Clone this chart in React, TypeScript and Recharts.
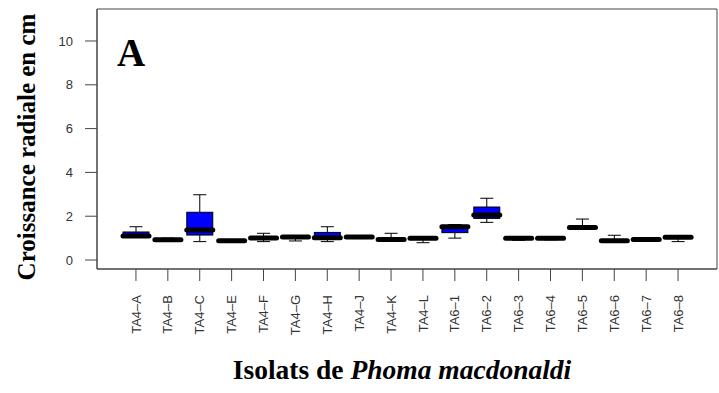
import React from "react";
import { Bar, CartesianGrid, ComposedChart, Label, XAxis, YAxis } from "recharts";

const isolates = [
  "TA4–A", "TA4–B", "TA4–C", "TA4–E", "TA4–F", "TA4–G", "TA4–H", "TA4–J", "TA4–K",
  "TA4–L", "TA6–1", "TA6–2", "TA6–3", "TA6–4", "TA6–5", "TA6–6", "TA6–7", "TA6–8",
];
const lowWhisker = [1.05, 0.88, 0.84, 0.82, 0.84, 0.87, 0.84, 0.98, 0.9, 0.79, 1.0, 1.72, 0.9, 0.92, 1.42, 0.83, 0.88, 0.84];
const lowerQuartile = [1.06, 0.9, 1.14, 0.85, 0.95, 1.0, 0.97, 1.0, 0.92, 0.95, 1.25, 1.9, 0.95, 0.95, 1.45, 0.85, 0.9, 0.98];
const medians = [1.1, 0.93, 1.37, 0.88, 1.0, 1.05, 1.02, 1.05, 0.94, 0.99, 1.52, 2.05, 0.99, 0.99, 1.49, 0.88, 0.94, 1.04];
const upperQuartile = [1.28, 0.97, 2.18, 0.9, 1.05, 1.08, 1.26, 1.08, 0.98, 1.02, 1.58, 2.42, 1.02, 1.02, 1.55, 0.92, 0.97, 1.06];
const highWhisker = [1.52, 1.0, 2.98, 0.93, 1.22, 1.12, 1.52, 1.1, 1.22, 1.04, 1.62, 2.82, 1.05, 1.04, 1.87, 1.13, 0.98, 1.08];
const yTicks = [0, 2, 4, 6, 8, 10];

const rows = isolates.map((name, i) => ({
  name,
  lo: lowWhisker[i],
  q1: lowerQuartile[i],
  med: medians[i],
  q3: upperQuartile[i],
  hi: highWhisker[i],
}));

const frame = "#444";
const serif = "'Liberation Serif', 'Times New Roman', serif";
const sans = "'Liberation Sans', Arial, sans-serif";

// the bar spans lo..hi, the rest of the box is placed relative to it
function BoxShape(props: any) {
  const { x, y, width, height, payload } = props;
  const top = Math.min(y, y + height);
  const bottom = Math.max(y, y + height);
  const k = (bottom - top) / (payload.hi - payload.lo || 1);
  const py = (v: number) => top + (payload.hi - v) * k;
  const cx = x + width / 2;
  const cap = width / 4;
  return (
    <g>
      <line x1={cx} x2={cx} y1={py(payload.hi)} y2={py(payload.q3)} stroke="#000" />
      <line x1={cx} x2={cx} y1={py(payload.q1)} y2={py(payload.lo)} stroke="#000" />
      <line x1={cx - cap} x2={cx + cap} y1={py(payload.hi)} y2={py(payload.hi)} stroke="#000" />
      <line x1={cx - cap} x2={cx + cap} y1={py(payload.lo)} y2={py(payload.lo)} stroke="#000" />
      <rect
        x={x}
        y={py(payload.q3)}
        width={width}
        height={Math.max(py(payload.q1) - py(payload.q3), 0.5)}
        fill="#0000ff"
        stroke="#000"
      />
      <line
        x1={x}
        x2={x + width}
        y1={py(payload.med)}
        y2={py(payload.med)}
        stroke="#000"
        strokeWidth={5}
        strokeLinecap="round"
      />
    </g>
  );
}

function RotatedTick({ x, y, payload }: any) {
  return (
    <g transform={`translate(${x},${y})`}>
      <text transform="rotate(-90)" textAnchor="end" dy="0.35em" fontSize={13} fontFamily={sans} fill="#333">
        {payload.value}
      </text>
    </g>
  );
}

export default function App() {
  return (
    <div style={{ position: "relative", width: 719, height: 393, background: "#fff" }}>
      <style>{`body{margin:0}`}</style>
      <ComposedChart width={719} height={393} data={rows} margin={{ top: 9, right: 2, left: 0, bottom: 0 }}>
        {/* box around the plot region */}
        <CartesianGrid
          stroke={frame}
          strokeDasharray=""
          horizontalCoordinatesGenerator={({ offset }: any) => [offset.top, offset.top + offset.height]}
          verticalCoordinatesGenerator={({ offset }: any) => [offset.left, offset.left + offset.width]}
        />
        <XAxis
          dataKey="name"
          interval={0}
          height={124}
          padding={{ left: 23, right: 23 }}
          tickSize={12}
          tickMargin={14}
          tick={<RotatedTick />}
          tickLine={{ stroke: frame }}
          axisLine={{ stroke: frame }}
        >
          <Label
            content={() => (
              <text x={402} y={379} textAnchor="middle" fontFamily={serif} fontWeight="bold" fontSize={27.5} fill="#000">
                Isolats de <tspan fontStyle="italic">Phoma macdonaldi</tspan>
              </text>
            )}
          />
        </XAxis>
        <YAxis
          type="number"
          domain={[-0.41, 11.46]}
          allowDataOverflow
          ticks={yTicks}
          width={97}
          tickSize={12}
          tickMargin={12}
          tickLine={{ stroke: frame }}
          axisLine={{ stroke: frame }}
          tick={{ fontSize: 13, fontFamily: sans, fill: "#333" }}
        >
          <Label
            content={() => (
              <text
                x={35}
                y={147}
                transform="rotate(-90, 35, 147)"
                textAnchor="middle"
                fontFamily={serif}
                fontWeight="bold"
                fontSize={25}
                fill="#000"
              >
                Croissance radiale en cm
              </text>
            )}
          />
        </YAxis>
        <Bar
          dataKey={(d: any) => [d.lo, d.hi]}
          barSize={26}
          shape={<BoxShape />}
          isAnimationActive={false}
        />
      </ComposedChart>
      <div
        style={{
          position: "absolute",
          left: 117,
          top: 33,
          fontFamily: serif,
          fontWeight: "bold",
          fontSize: 39,
          lineHeight: "39px",
          color: "#000",
        }}
      >
        A
      </div>
    </div>
  );
}
